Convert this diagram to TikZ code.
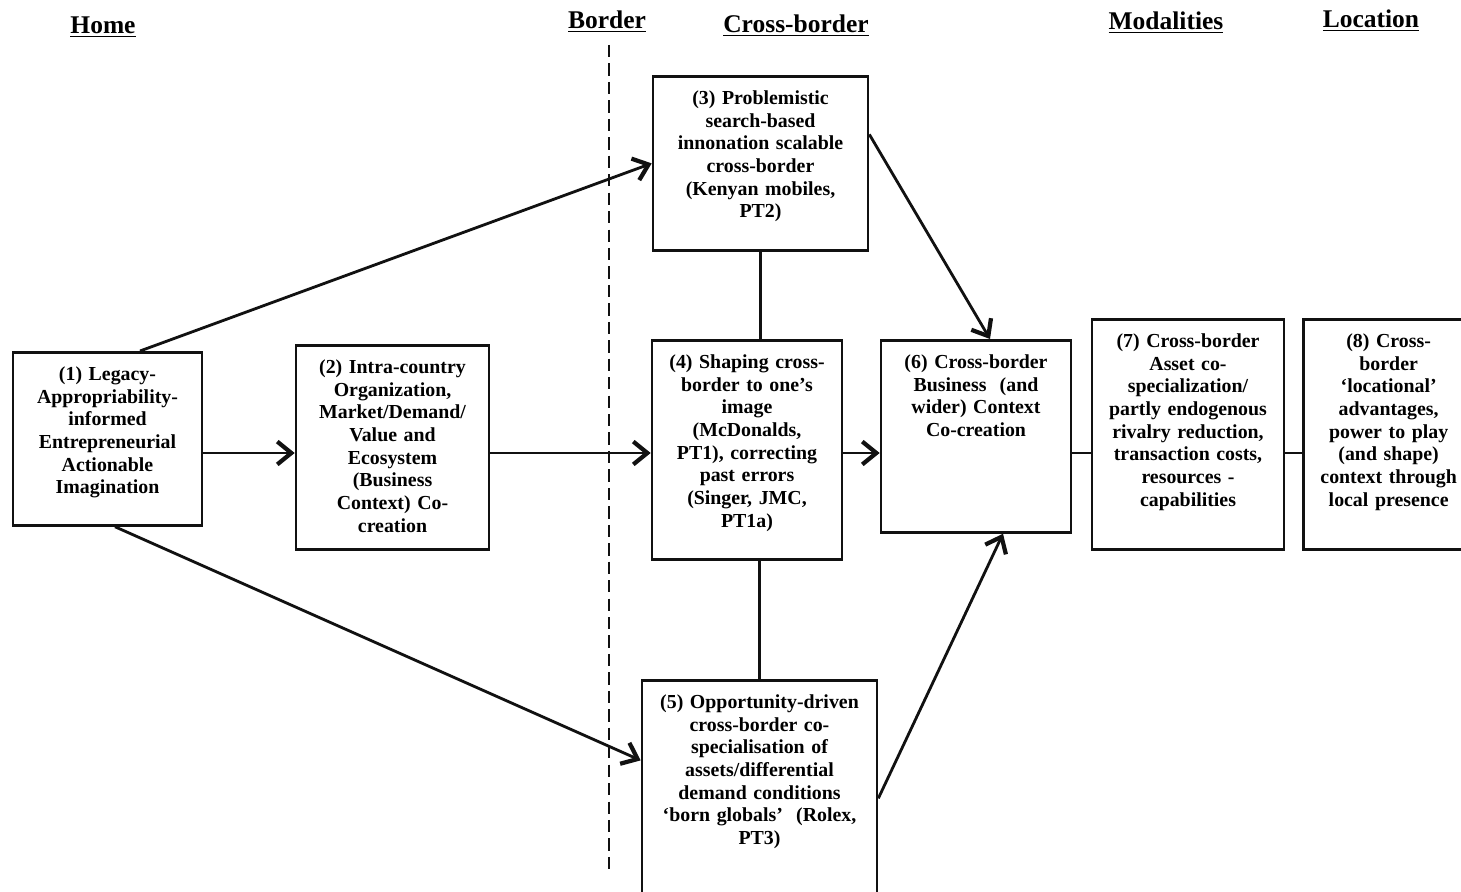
\documentclass[tikz,border=0pt]{standalone}
\usepackage{fontspec}
\setmainfont{Liberation Serif}
\usetikzlibrary{arrows.meta, positioning}
\definecolor{InkBlack}{HTML}{111111}
\tikzset{
  % Framework box (text hangs from the top)
  block/.style={
    rectangle, draw=InkBlack, line width=1.5pt,
    anchor=north, align=center,
    inner xsep=0pt, inner ysep=0.26cm,
    text height=8.6pt,
    font=\bfseries\fontsize{11.3}{12.9}\selectfont
  },
  % Column heading
  heading/.style={
    anchor=base, inner sep=0pt,
    font=\bfseries\fontsize{14.5}{16}\selectfont
  },
  % Arrow style
  arrow/.style={
    -{Straight Barb[length=8pt, width=13pt, line width=2.4pt]},
    line width=1.6pt, draw=InkBlack
  },
  % Plain connector
  link/.style={
    line width=1.4pt, draw=InkBlack
  },
  % Home / cross-border divide
  border_line/.style={
    line width=1.1pt, dash pattern=on 7pt off 3.5pt, draw=InkBlack
  }
}
\begin{document}
\begin{tikzpicture}[x=0.2mm, y=-0.2mm]

\path[fill=white, use as bounding box] (0,0) rectangle (1461,892);

% Headings
\node[heading] (home_head)     at (103,34)  {\underline{Home}};
\node[heading] (border_head)   at (607,29)  {\underline{Border}};
\node[heading] (cross_head)    at (796,33)  {\underline{Cross-border}};
\node[heading] (modal_head)    at (1166,30) {\underline{Modalities}};
\node[heading] (location_head) at (1371,28) {\underline{Location}};

% Border
\coordinate (border_top) at (609,45);
\coordinate (border_bot) at (609,870);
\draw[border_line] (border_top) -- (border_bot);

% Home side
\node[block, text width=3.78cm, text depth=2.64cm] (legacy) at (107.5,351)
  {(1) Legacy-\\Appropriability-\\informed\\Entrepreneurial\\Actionable\\Imagination};

\node[block, text width=3.86cm, text depth=3.26cm] (intra_country) at (392.5,344)
  {(2) Intra-country\\Organization,\\Market/Demand/\\Value and\\Ecosystem\\(Business\\Context) Co-\\creation};

% Cross-border side
\node[block, text width=4.30cm, text depth=2.66cm] (problemistic) at (760.5,75)
  {(3) Problemistic\\search-based\\innonation scalable\\cross-border\\(Kenyan mobiles,\\PT2)};

\node[block, text width=3.80cm, text depth=3.56cm] (shaping) at (747,339)
  {(4) Shaping cross-\\border to one's\\image\\(McDonalds,\\PT1), correcting\\past errors\\(Singer, JMC,\\PT1a)};

\node[block, text width=4.70cm, text depth=3.50cm] (opportunity) at (759.5,679)
  {(5) Opportunity-driven\\cross-border co-\\specialisation of\\assets/differential\\demand conditions\\`born globals'~~(Rolex,\\PT3)};

\node[block, text width=3.80cm, text depth=3.02cm] (context_cocreation) at (976,339)
  {(6) Cross-border\\Business~~(and\\wider) Context\\Co-creation};

% Modalities and location
\node[block, text width=3.84cm, text depth=3.78cm] (asset_cospec) at (1188,318)
  {(7) Cross-border\\Asset co-\\specialization/\\partly endogenous\\rivalry reduction,\\transaction costs,\\resources -\\capabilities};

\node[block, text width=3.40cm, text depth=3.78cm, right=0.34cm of asset_cospec] (locational)
  {(8) Cross-\\border\\`locational'\\advantages,\\power to play\\(and shape)\\context through\\local presence};

% Arrows
\coordinate (row) at (0,453);
\draw[arrow] (legacy.east |- row)        -- (intra_country.west |- row);
\draw[arrow] (intra_country.east |- row) -- (shaping.west |- row);
\draw[arrow] (shaping.east |- row)       -- (context_cocreation.west |- row);
\draw[arrow] ([xshift=0.65cm]legacy.north)  -- (problemistic.west);
\draw[arrow] ([xshift=0.15cm]legacy.south)  -- ([yshift=0.56cm]opportunity.west);
\draw[arrow] ([yshift=0.58cm]problemistic.east) -- ([xshift=0.28cm]context_cocreation.north);
\draw[arrow] ([yshift=-0.2cm]opportunity.east)  -- ([xshift=0.54cm]context_cocreation.south);

% Plain links
\draw[link] (problemistic.south) -- (problemistic.south |- shaping.north);
\draw[link] (opportunity.north |- shaping.south) -- (opportunity.north);
\draw[link, line width=1pt] (context_cocreation.east |- row) -- (asset_cospec.west |- row);
\draw[link, line width=1pt] (asset_cospec.east |- row)       -- (locational.west |- row);

\end{tikzpicture}
\end{document}
